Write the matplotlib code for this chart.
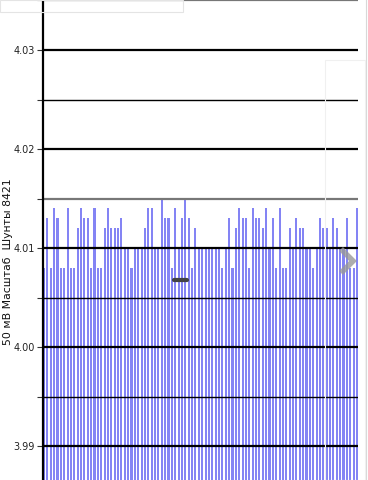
import matplotlib
matplotlib.use("Agg")
import matplotlib.pyplot as plt
from matplotlib.ticker import MultipleLocator, FormatStrFormatter
from matplotlib.lines import Line2D
from matplotlib.patches import FancyBboxPatch, Rectangle
import numpy as np

# ---- data ----
values = [
    4.008, 4.013, 4.008, 4.014, 4.013, 4.008, 4.008, 4.014, 4.008, 4.008,
    4.012, 4.014, 4.013, 4.013, 4.008, 4.014, 4.008, 4.008, 4.012, 4.014,
    4.012, 4.012, 4.012, 4.013, 4.010, 4.010, 4.008, 4.010, 4.010, 4.010,
    4.012, 4.014, 4.014, 4.010, 4.010, 4.015, 4.013, 4.013, 4.008, 4.014,
    4.010, 4.013, 4.015, 4.013, 4.008, 4.012, 4.010, 4.010, 4.010, 4.010,
    4.010, 4.010, 4.010, 4.008, 4.010, 4.013, 4.008, 4.012, 4.014, 4.013,
    4.013, 4.008, 4.014, 4.013, 4.013, 4.012, 4.014, 4.010, 4.013, 4.008,
    4.014, 4.008, 4.008, 4.012, 4.010, 4.013, 4.012, 4.012, 4.010, 4.010,
    4.008, 4.010, 4.013, 4.012, 4.012, 4.010, 4.013, 4.012, 4.010, 4.010,
    4.013, 4.008, 4.008, 4.014,
]
major_levels = [3.99, 4.00, 4.01, 4.02, 4.03]
minor_levels = [3.995, 4.005, 4.025]
gray_levels = [4.015, 4.035]
y_label = "50 мВ Масштаб  Шунты 8421"

# ---- figure ----
fig = plt.figure(figsize=(3.68, 4.8), dpi=100)
W, H = 368, 480
ax = fig.add_axes([43 / W, 0, 315 / W, 1])

n = len(values)
x = np.arange(n)
base = 3.98
vals = np.array(values)
ax.bar(x, vals - base, bottom=base, width=0.62, color="#8484f4",
       edgecolor="none", zorder=1)

ppu = (357 - 44) / (n - 1)
ax.set_xlim(-1 / ppu, (n - 1) + 1 / ppu)
ax.set_ylim(3.98657, 4.03505)

for lv in major_levels:
    ax.axhline(lv, color="black", lw=1.6, zorder=3)
for lv in minor_levels:
    ax.axhline(lv, color="black", lw=1.0, zorder=3)
for lv in gray_levels:
    ax.axhline(lv, color="#777777", lw=1.6, zorder=3)

ax.yaxis.set_major_locator(MultipleLocator(0.01))
ax.yaxis.set_minor_locator(MultipleLocator(0.005))
ax.yaxis.set_major_formatter(FormatStrFormatter("%.2f"))
ax.tick_params(axis="y", which="both", length=4, width=0.8, color="#333333",
               labelsize=7, pad=2, labelcolor="#222222")
ax.set_xticks([])
for s in ["top", "right", "bottom"]:
    ax.spines[s].set_visible(False)
ax.spines["left"].set_linewidth(1.6)
ax.spines["left"].set_zorder(4)

fig.text(8 / W, 1 - 262 / H, y_label, rotation=90, ha="center", va="center",
         fontsize=7.8, color="#111111")

# ---- UI overlays seen in the screenshot ----
fig.patches.append(Rectangle((0, 1 - 12 / H), 183 / W, 12 / H,
                             transform=fig.transFigure, fill=False,
                             edgecolor="#e4e4e4", lw=0.8, zorder=5))
fig.patches.append(Rectangle((325 / W, 0), 40 / W, 1 - 60 / H,
                             transform=fig.transFigure, fill=False,
                             edgecolor="#f0f0f0", lw=0.8, zorder=5))
fig.lines.append(Line2D([365.5 / W, 365.5 / W], [0, 1],
                        transform=fig.transFigure, color="#d8d8d8", lw=0.8))
fig.lines.append(Line2D([341 / W, 353 / W, 341 / W],
                        [1 - 249 / H, 1 - 261 / H, 1 - 273 / H],
                        transform=fig.transFigure, color="#999999", lw=4,
                        alpha=0.8, solid_capstyle="butt", solid_joinstyle="miter",
                        zorder=6))
fig.lines.append(Line2D([174 / W, 187 / W], [1 - 279.5 / H, 1 - 279.5 / H],
                        transform=fig.transFigure, color="#444444", lw=3,
                        solid_capstyle="round", zorder=6))

fig.savefig("out.png", dpi=100)
